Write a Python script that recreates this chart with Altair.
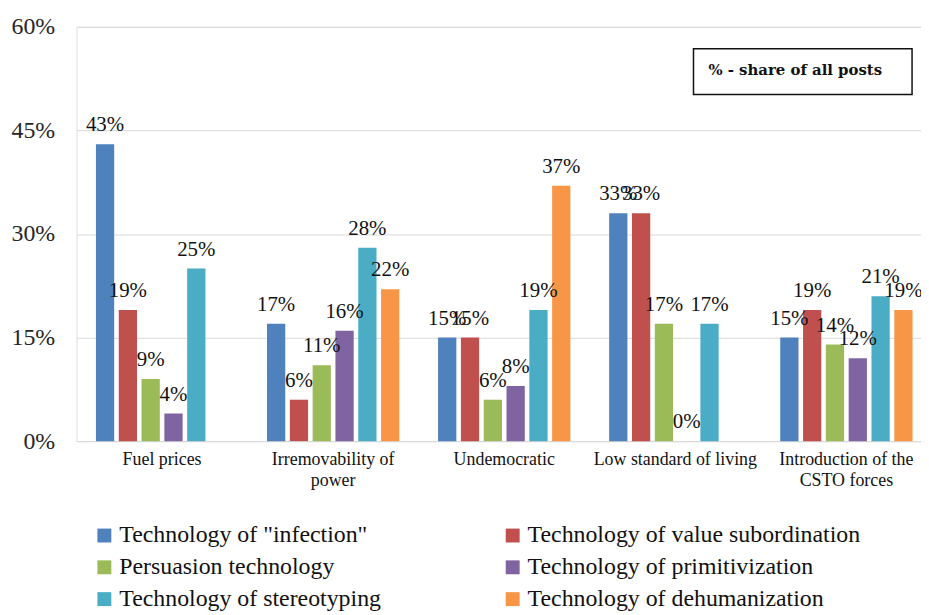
import altair as alt
import pandas as pd

CATEGORIES = ["Fuel prices", "Irremovability of\npower", "Undemocratic",
              "Low standard of living", "Introduction of the\nCSTO forces"]
SERIES = ['Technology of "infection"', "Technology of value subordination",
          "Persuasion technology", "Technology of primitivization",
          "Technology of stereotyping", "Technology of dehumanization"]
COLORS = ["#4F81BD", "#C0504D", "#9BBB59", "#8064A2", "#4BACC6", "#F79646"]

INFECTION = [43, 17, 15, 33, 15]
VALUE_SUBORDINATION = [19, 6, 15, 33, 19]
PERSUASION = [9, 11, 6, 17, 14]
PRIMITIVIZATION = [4, 16, 8, 0, 12]
STEREOTYPING = [25, 28, 19, 17, 21]
DEHUMANIZATION = [None, 22, 37, None, 19]

Y_TICKS = [0, 15, 30, 45, 60]
NOTE = "% - share of all posts"

SERIES_VALUES = [INFECTION, VALUE_SUBORDINATION, PERSUASION,
                 PRIMITIVIZATION, STEREOTYPING, DEHUMANIZATION]

rows = []
for s, vals in zip(SERIES, SERIES_VALUES):
    for c, v in zip(CATEGORIES, vals):
        rows.append({"category": c, "series": s, "value": v})
df = pd.DataFrame(rows)

# legend is laid out column by column: reorder so it reads row by row
LEGEND_IDX = [0, 2, 4, 1, 3, 5]
LEGEND_DOMAIN = [SERIES[i] for i in LEGEND_IDX]
LEGEND_RANGE = [COLORS[i] for i in LEGEND_IDX]

SERIF = "Liberation Serif"

x_enc = alt.X("category:N", sort=CATEGORIES, title=None,
              scale=alt.Scale(paddingInner=0.2, paddingOuter=0.1),
              axis=alt.Axis(labelAngle=0, domain=False, ticks=False,
                            labelFont=SERIF, labelFontSize=18, labelColor="#111",
                            labelPadding=10, labelLineHeight=21,
                            labelExpr="split(datum.label, '\\n')"))
xoff = alt.XOffset("series:N", sort=SERIES,
                   scale=alt.Scale(paddingInner=0.2, paddingOuter=0.1))
y_enc = alt.Y("value:Q", title=None,
              scale=alt.Scale(domain=[0, 60], nice=False),
              axis=alt.Axis(values=Y_TICKS, labelExpr="datum.value + '%'",
                            domain=False, ticks=False, grid=True,
                            gridColor="#d9d9d9", gridWidth=1,
                            labelFont=SERIF, labelFontSize=24, labelColor="#262626",
                            labelPadding=22))

base = alt.Chart(df)

bars = base.mark_bar().encode(
    x=x_enc, xOffset=xoff, y=y_enc,
    color=alt.Color("series:N",
                    scale=alt.Scale(domain=LEGEND_DOMAIN, range=LEGEND_RANGE),
                    legend=alt.Legend(orient="none", legendX=16, legendY=500,
                                      columns=2, columnPadding=120, rowPadding=8,
                                      symbolType="square", symbolSize=196,
                                      symbolStrokeWidth=0, labelOffset=3,
                                      labelFont=SERIF, labelFontSize=24,
                                      labelColor="#111", labelLimit=400,
                                      title=None)),
)

labels = base.transform_filter("datum.value != null").transform_calculate(
    lab="datum.value + '%'"
).mark_text(font=SERIF, fontSize=21, color="#111", baseline="alphabetic", dy=-13).encode(
    x=x_enc, xOffset=xoff, y=y_enc, text="lab:N"
)

note_df = pd.DataFrame({"note": [NOTE]})
box = alt.Chart(note_df).mark_rect(fill="white", stroke="#111", strokeWidth=1.5).encode(
    x=alt.value(621), x2=alt.value(841), y=alt.value(22), y2=alt.value(68)
)
note = alt.Chart(note_df).mark_text(font="DejaVu Serif", fontSize=15, fontWeight="bold",
                                    align="left", baseline="middle", color="#111").encode(
    x=alt.value(636), y=alt.value(43), text="note:N"
)

chart = alt.layer(bars, labels, box, note).properties(
    width=861, height=417,
    autosize=alt.AutoSizeParams(type="none"),
    padding={"left": 69, "top": 17, "right": -11, "bottom": 173},
).configure_view(stroke=None).configure(background="white")

chart.save("out.html", embed_options={"renderer": "svg", "actions": False})
